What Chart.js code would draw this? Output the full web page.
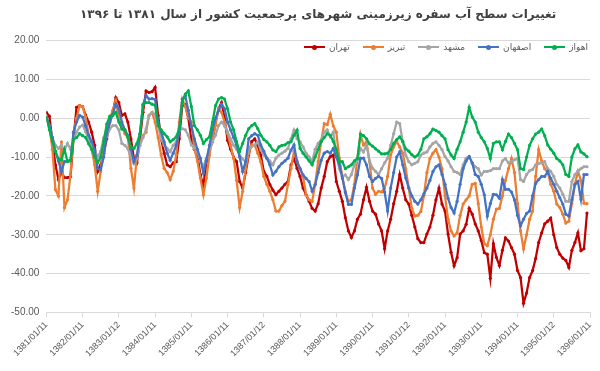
<!DOCTYPE html>
<html lang="fa">
<head>
    <meta charset="UTF-8">
    <title>تغییرات سطح آب سفره زیرزمینی</title>
    <style>
        body {
            margin: 0;
            background: #ffffff;
        }

        .chart-box {
            position: relative;
            width: 600px;
            height: 371px;
        }

        /* legend sits inside the plot, right aligned like the original */
        .legend {
            position: absolute;
            top: 42px;
            right: 12px;
            display: flex;
            align-items: center;
            font-family: "DejaVu Sans", sans-serif;
            font-size: 9px;
            color: #595959;
        }

        .legend-item {
            display: flex;
            align-items: center;
            margin-left: 13px;
        }

        .swatch {
            position: relative;
            width: 21px;
            height: 2px;
            margin-right: 4px;
        }

        .swatch::after {
            content: "";
            position: absolute;
            left: 8px;
            top: -1.5px;
            width: 5px;
            height: 5px;
            border-radius: 50%;
            background: inherit;
        }
    </style>
    <script src="https://cdn.jsdelivr.net/npm/chart.js"></script>
</head>
<body>

    <div class="chart-box">
        <canvas id="sathAb"></canvas>
        <div class="legend" id="legend"></div>
    </div>

    <script>
        // برچسب‌های محور افقی (هر ۱۲ ماه یک برچسب)
        const saalha = ['1381/01/11', '1382/01/11', '1383/01/12', '1384/01/11', '1385/01/11', '1386/01/11',
            '1387/01/12', '1388/01/11', '1389/01/11', '1390/01/11', '1391/01/12', '1392/01/11',
            '1393/01/11', '1394/01/11', '1395/01/12', '1396/01/11'];

        // داده‌های ماهانه (هر سطر یک سال)
        const tehran = [
            1.5, 0.5, -6, -12, -15.8, -14, -15.3, -15.3, -15, -5.3, 2.8, 3.2,
            3, 0.8, -1, -3.6, -7, -13.7, -12, -9, -5.3, -1, 1.5, 5.3,
            4, 0.7, 1.1, -1, -5.3, -10.4, -11.5, -5.3, 1.5, 7, 6.6, 6.8,
            7.9, 0.7, -5.3, -9, -12, -12.5, -11.5, -11.2, -5.3, 3.2, 3.5, 0,
            -5.3, -8, -9.5, -14.6, -17.5, -11.2, -8, -6.1, -1, 2.4, 4, 0,
            -5.7, -8, -10, -11.2, -16.3, -18, -14, -9.5, -6, -5.3, -7, -9.5,
            -13.7, -15, -17.1, -18.5, -19.7, -18.8, -18, -17, -16.3, -12, -10.3, -12.9,
            -15, -18, -19.7, -21.4, -23.2, -23.9, -22, -18, -15, -11.2, -9.9, -9.5,
            -16.3, -18.8, -21.4, -25.6, -29, -30.7, -29, -26, -24.7, -21, -17.8, -21.4,
            -23.9, -24.7, -27.2, -29, -33.6, -29, -26, -22, -18.8, -14.5, -18, -21,
            -22.1, -25, -28, -31, -32, -32, -29.8, -28, -25, -21, -18, -22.1,
            -23.9, -29.8, -34.5, -38, -35.9, -29.8, -29, -27.3, -23.2, -24.7, -27.2, -29,
            -31.5, -34.6, -35, -41.2, -32.3, -35.8, -37.9, -34, -30.8, -31.6, -33.3, -35,
            -39.2, -41, -47.6, -45, -41, -39.2, -36.1, -32, -29.5, -27.2, -26.5, -25.7,
            -30, -33.3, -35, -36, -36.6, -38.4, -34, -32, -29.5, -34.1, -33.6, -24.4
        ];

        const tabriz = [
            0, -2, -8, -18.4, -20, -6.1, -23, -21, -14.6, -3.6, 0, 3.2,
            3, 0.3, -4.4, -8, -12, -18.8, -13.7, -5.3, -2.5, -0.2, 2, 4.5,
            -0.2, -2, -4, -5, -12.9, -18, -9.5, -6, -4.5, -3.6, 0.7, 1.5,
            -1, -5, -9.5, -12.9, -14, -15.8, -13.7, -9.5, -1, 4.9, 3, 0,
            -1, -7.8, -11, -15.4, -19.7, -15.4, -9.5, -5, -1.9, 2.4, 1.5, -1,
            -4, -7, -10.3, -16, -23, -18.8, -13, -9, -6.9, -7, -9, -11.2,
            -15, -17, -18.8, -21, -23.9, -23.9, -22.5, -21.4, -17, -12.9, -8.6, -11,
            -13, -15, -19.7, -21, -21.4, -17, -11.2, -6, -1.4, -1.7, 1, -2,
            -3.6, -10.3, -15, -18.8, -21.4, -21, -17, -10.3, -4.1, -6.9, -6.1, -11.2,
            -18, -19.6, -18.8, -19, -18, -15, -9.5, -7.4, -6, -7.4, -9, -13,
            -18, -23.2, -25.2, -25, -24, -20, -14, -10.4, -9, -8.1, -10, -13,
            -20, -26, -29, -30.3, -29.5, -25, -22.1, -21, -20, -17, -16.8, -22,
            -28, -32.3, -32.8, -30, -26, -23.4, -23.2, -20, -16, -13, -10.4, -14,
            -22, -29, -33.6, -30, -26, -23.9, -15, -8.1, -11, -13, -14, -17,
            -18.8, -22.1, -23, -24.7, -27, -26.5, -22, -17, -13.7, -16, -21.9, -22
        ];

        const mashhad = [
            0, -2, -5, -7, -7.8, -7, -8.2, -6.5, -8, -5.6, -3.6, -2.3,
            -1.8, -3.5, -5.5, -7.4, -8.2, -10, -8.5, -5, -4.8, -2.8, -1.9, -1.9,
            -3, -6.5, -7, -7.9, -10, -11.7, -10.3, -7, -5, -2.8, 0.7, 1.5,
            1, -2, -5.3, -7, -7.8, -8.6, -7, -6.1, -3.1, -2.7, -3, -4.4,
            -6.9, -7.5, -8.6, -11, -12.5, -10.3, -8, -6, -4.4, -1.9, -1, -2,
            -3.5, -5.3, -7, -8, -9.5, -10.5, -11.2, -7.8, -7.3, -6.9, -6.1, -8.2,
            -9.5, -10.3, -11, -12, -10.3, -9.5, -9, -8.5, -7.8, -5.3, -3.1, -5.3,
            -6.1, -7.4, -9, -10, -11.2, -8, -6.5, -5.6, -3.6, -3, -4.8, -3.6,
            -9, -13, -15, -14.6, -15.8, -14.5, -12, -10.7, -7.8, -8.7, -6.9, -11,
            -12.9, -13.7, -14.5, -13, -11.5, -10.3, -7, -4, -1, -1.4, -6.1, -9.5,
            -11.2, -12, -11.6, -11.2, -9.5, -9, -8.7, -7.4, -6.5, -6.1, -7, -8.1,
            -9.9, -11, -12.5, -13.7, -14, -14.5, -12, -10.3, -9.9, -11.6, -12.5, -13,
            -14.6, -13.7, -13.7, -13.5, -13, -13, -13, -11, -10.4, -11.5, -11.2, -10.7,
            -10.4, -15.8, -16.3, -14.5, -13.5, -13.2, -12, -11.7, -11.5, -11.2, -13, -13.7,
            -15, -17, -18, -19.6, -21.4, -21.4, -16.3, -14.5, -13.7, -13, -12.5, -12.5
        ];

        const esfahan = [
            0.3, -2, -5, -8.6, -11, -13.7, -11.2, -11, -10.8, -3.6, -1, 0.7,
            0.3, -2, -4.4, -6, -8.2, -13, -13.3, -10, -4, -1, 1, 3.6,
            2.4, -1, -3, -4.5, -8, -11.2, -9.5, -4, 3.3, 5.8, 4.9, 5,
            4.8, -1, -3.5, -6.1, -9, -10.8, -9, -7, -3.6, 4.9, 5.8, 2,
            -2, -5.3, -8, -10.3, -14.2, -10.8, -7, -3, 0, 1.9, 3.6, 2.4,
            -1, -3, -5, -6.9, -10, -13.7, -11.2, -5.3, -4.5, -4, -4.4, -6.9,
            -8.5, -10.3, -12, -14.6, -13.7, -12.5, -11.6, -11, -10.3, -8.2, -6.9, -11.2,
            -13, -14.6, -15.5, -16.3, -18.8, -17.1, -14, -10.8, -9, -8.6, -9, -7.8,
            -10, -12, -15.4, -19.2, -22.2, -22.2, -18, -14.6, -10.3, -10.3, -12, -15,
            -16.3, -15.5, -15, -15.5, -19, -23.9, -18, -14, -10, -8.7, -12, -15.4,
            -18, -20, -21.4, -22.1, -21, -19.5, -18, -16, -13.7, -12.5, -12, -14.5,
            -17, -20.6, -23, -24.4, -21.4, -17, -13, -11, -9.9, -11.5, -14.5, -15,
            -17, -19.7, -25.2, -22, -19.6, -19.7, -20.6, -15.8, -18.3, -18.3, -19, -21,
            -25, -27.7, -26, -24.5, -23.9, -20, -16.8, -15.8, -15, -15, -13.7, -15.5,
            -17, -18.8, -20.5, -22.1, -24.7, -25.2, -21, -17, -16.3, -20.9, -14.5, -14.5
        ];

        const ahvaz = [
            0.3, -3, -6, -8.5, -10.5, -10.7, -8, -11.2, -11, -5.4, -5, -4,
            -4.5, -5, -6.6, -8, -10, -11.5, -10, -6, -1.5, 0.5, 0.7, 1.5,
            -1, -2.8, -3, -5, -7.4, -7.8, -6.5, -4, 3.6, 4, 4, 3.6,
            3.3, -1.9, -3, -4, -4.8, -6.1, -5.5, -4.8, -2.7, 4, 6.2, 7,
            3, -1.9, -3, -4.4, -6.5, -5.5, -4.8, -1, 3.2, 4.9, 5.3, 4.9,
            2.4, -1, -3, -6.1, -8.6, -6.5, -4.4, -2.7, -1.9, -1.4, -2.7, -4.4,
            -5.5, -6.1, -7, -8.2, -8.6, -7.4, -7, -6.9, -6.3, -6.1, -4.4, -3.1,
            -7.8, -9, -10, -11, -12, -10, -8, -6, -5, -4, -4.4, -6,
            -8, -11.2, -11.2, -13, -12.5, -12, -11, -10.4, -4.1, -4.5, -5.3, -6.6,
            -7.2, -7.9, -8.5, -9.2, -9.2, -9, -8.1, -6.5, -5.5, -4.8, -6, -7.9,
            -8.5, -9.4, -10, -9.5, -8, -5.3, -4.8, -4, -2.8, -3.2, -3.6, -4.5,
            -5.3, -8.1, -9.5, -10.4, -8, -6.1, -3.6, -1, 2.8, 0.3, -1, -3.6,
            -5, -6.1, -7.8, -10.4, -6.5, -6.1, -6.1, -8.1, -6, -4.1, -5, -6.5,
            -8.1, -13, -13.2, -10, -7, -5.3, -4.1, -3.6, -2.8, -4.5, -6.9, -8,
            -9, -10.4, -11, -12, -14.5, -15, -10, -7.9, -6.9, -8.7, -9.2, -9.9
        ];

        const shahrha = ['تهران', 'تبریز', 'مشهد', 'اصفهان', 'اهواز'];
        const rangha = ['#C00000', '#ED7D31', '#A5A5A5', '#4472C4', '#00B050'];
        const seriha = [tehran, tabriz, mashhad, esfahan, ahvaz];

        // هر ماه یک نقطه روی محور خطی
        function beNoghte(arr) {
            return arr.map((v, i) => ({ x: i, y: v }));
        }

        const datasets = seriha.map((arr, k) => ({
            label: shahrha[k],
            data: beNoghte(arr),
            borderColor: rangha[k],
            backgroundColor: rangha[k],
            order: seriha.length - 1 - k // آخرین سری روی همه کشیده شود
        }));

        const ctx = document.getElementById('sathAb').getContext('2d');
        const nemoodar = new Chart(ctx, {
            type: 'line',
            data: { datasets: datasets },
            options: {
                responsive: true,
                maintainAspectRatio: false,
                animation: false,
                layout: {
                    padding: { left: 4, right: 10, top: 0, bottom: 10 }
                },
                elements: {
                    line: { borderWidth: 2.25, tension: 0 },
                    point: { radius: 1.6, borderWidth: 0, hoverRadius: 3 }
                },
                scales: {
                    x: {
                        type: 'linear',
                        min: 0,
                        max: 180,
                        ticks: {
                            stepSize: 12,
                            autoSkip: false,
                            maxRotation: 45,
                            minRotation: 45,
                            padding: 2,
                            color: '#595959',
                            font: { family: 'Liberation Sans', size: 9 },
                            callback: (v) => saalha[v / 12]
                        },
                        grid: {
                            drawOnChartArea: false,
                            color: '#D9D9D9',
                            tickLength: 5
                        },
                        border: { color: '#D9D9D9' }
                    },
                    y: {
                        min: -50,
                        max: 20,
                        ticks: {
                            stepSize: 10,
                            padding: 7,
                            color: '#595959',
                            font: { family: 'Liberation Sans', size: 10 },
                            callback: (v) => v.toFixed(2)
                        },
                        grid: { color: '#D9D9D9', drawTicks: false },
                        border: { display: false }
                    }
                },
                plugins: {
                    legend: { display: false },
                    title: {
                        display: true,
                        fullSize: false,
                        text: 'تغییرات سطح آب سفره زیرزمینی شهرهای پرجمعیت کشور از سال ۱۳۸۱ تا ۱۳۹۶',
                        color: '#404040',
                        font: { family: 'DejaVu Sans', size: 12, weight: 'bold' },
                        padding: { top: 8, bottom: 18 }
                    },
                    tooltip: { enabled: true }
                }
            }
        });

        // راهنما (از چپ به راست مثل تصویر اصلی)
        const legendBox = document.getElementById('legend');
        shahrha.forEach((name, k) => {
            const item = document.createElement('div');
            item.className = 'legend-item';
            const sw = document.createElement('span');
            sw.className = 'swatch';
            sw.style.background = rangha[k];
            const txt = document.createElement('span');
            txt.dir = 'rtl';
            txt.textContent = name;
            item.appendChild(sw);
            item.appendChild(txt);
            legendBox.appendChild(item);
        });
    </script>
</body>
</html>
